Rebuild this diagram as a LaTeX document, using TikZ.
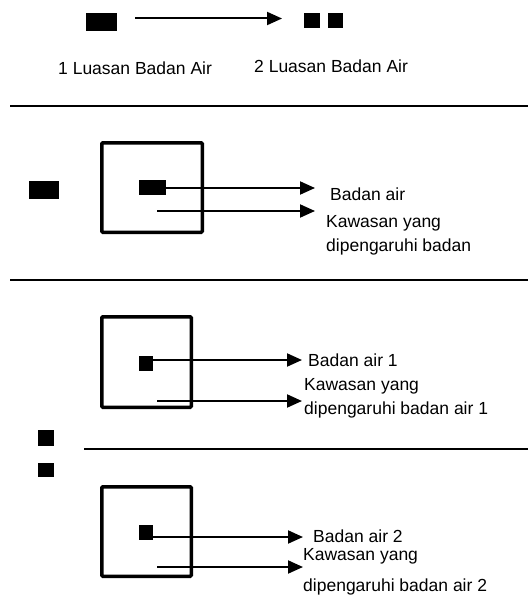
\documentclass[tikz,border=0pt]{standalone}
\usepackage{fontspec}
\setmainfont{Liberation Sans}
\usetikzlibrary{arrows.meta}
\begin{document}
\begin{tikzpicture}[x=1pt,y=-1pt,
  blk/.style={fill=black,draw=none,inner sep=0pt,outer sep=0pt},
  bigbox/.style={draw=black,line width=3.5pt,rounded corners=1pt,inner sep=0pt,outer sep=0pt},
  arr/.style={line width=2pt,-{Triangle[length=15pt,width=13pt]}},
  sep/.style={line width=2.5pt},
  lbl/.style={anchor=base west,inner sep=0pt,font=\fontsize{17.5}{21}\selectfont}
]
\useasboundingbox (0,0) rectangle (528,615);

% --- top section ---
\node[blk,minimum width=31pt,minimum height=18pt] (topL) at (101.5,22) {};
\node[blk,minimum width=16pt,minimum height=15pt] (topR1) at (312,20.5) {};
\node[blk,minimum width=15pt,minimum height=15pt] (topR2) at (335.5,20.5) {};
\coordinate (topS) at (135,18.5);
\coordinate (topT) at (282,18.5);
\draw[arr] (topS) -- (topT);
\node[lbl] (t1) at (58,75) {1 Luasan Badan Air};
\node[lbl] (t2) at (254,72.5) {2 Luasan Badan Air};

\coordinate (l1a) at (10,106);
\coordinate (l1b) at (528,106);
\draw[sep] (l1a) -- (l1b);

% --- section 2 ---
\node[blk,minimum width=30pt,minimum height=18pt] (s2L) at (44,190) {};
\node[bigbox,minimum width=100.5pt,minimum height=89.5pt] (b2) at (152,187.5) {};
\node[blk,minimum width=27pt,minimum height=15pt] (s2) at (152.5,187.5) {};
\coordinate (t2a) at (315,188);
\coordinate (s2b) at (157,211);
\coordinate (t2b) at (315,211);
\draw[arr] (s2.east |- t2a) -- (t2a);
\draw[arr] (s2b) -- (t2b);
\node[lbl] (x2a) at (330,200.5) {Badan air};
\node[lbl] (x2b) at (326,227.5) {Kawasan yang};
\node[lbl] (x2c) at (326,251.5) {dipengaruhi badan};

\coordinate (l2a) at (10,280);
\coordinate (l2b) at (528,280);
\draw[sep] (l2a) -- (l2b);

% --- section 3 ---
\node[bigbox,minimum width=89.5pt,minimum height=90.5pt] (b3) at (146.5,362) {};
\node[blk,minimum width=14pt,minimum height=15pt] (s3) at (146,363.5) {};
\coordinate (t3a) at (302,360);
\coordinate (s3b) at (157,401);
\coordinate (t3b) at (302,401);
\draw[arr] (s3.east |- t3a) -- (t3a);
\draw[arr] (s3b) -- (t3b);
\node[lbl] (x3a) at (308,366) {Badan air 1};
\node[lbl] (x3b) at (304,390) {Kawasan yang};
\node[lbl] (x3c) at (304,414) {dipengaruhi badan air 1};

\node[blk,minimum width=16pt,minimum height=16pt] (q1) at (46,438) {};
\node[blk,minimum width=16pt,minimum height=14pt] (q2) at (46,470) {};

\coordinate (l3a) at (84,449);
\coordinate (l3b) at (528,449);
\draw[sep] (l3a) -- (l3b);

% --- section 4 ---
\node[bigbox,minimum width=89.5pt,minimum height=89.5pt] (b4) at (146.5,531.5) {};
\node[blk,minimum width=14pt,minimum height=15pt] (s4) at (146,532.5) {};
\coordinate (t4a) at (303,537);
\coordinate (s4b) at (157,567);
\coordinate (t4b) at (303,567);
\draw[arr] (s4.east |- t4a) -- (t4a);
\draw[arr] (s4b) -- (t4b);
\node[lbl] (x4a) at (313,542.5) {Badan air 2};
\node[lbl] (x4b) at (303,560.5) {Kawasan yang};
\node[lbl] (x4c) at (303,591.5) {dipengaruhi badan air 2};
\end{tikzpicture}
\end{document}
